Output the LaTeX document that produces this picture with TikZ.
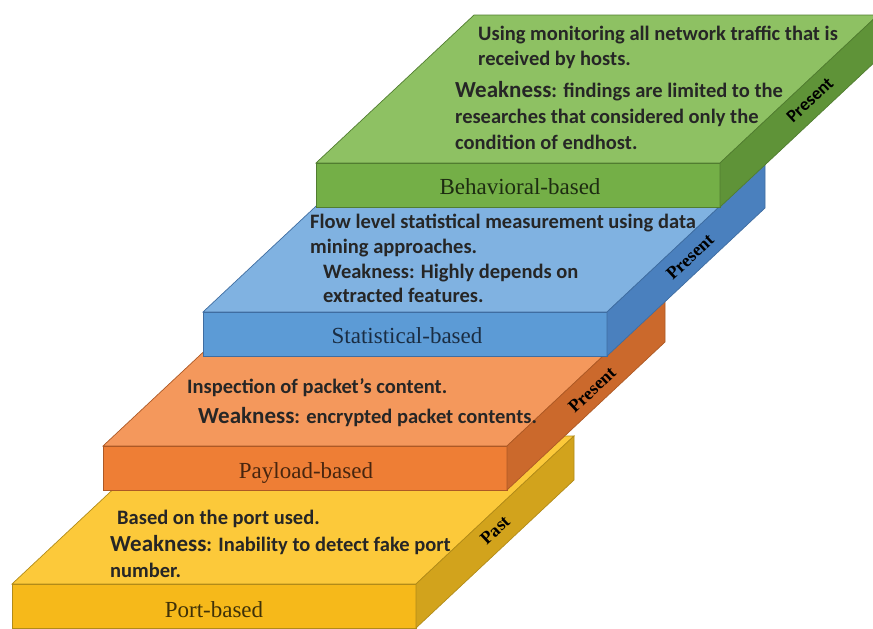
\documentclass[tikz,border=0pt]{standalone}
\usepackage{fontspec}
\setmainfont{Liberation Serif}
\newfontfamily\calfont{Carlito}
\definecolor{ytop}{HTML}{FCC93A}
\definecolor{yfront}{HTML}{F6B91A}
\definecolor{yside}{HTML}{D2A31C}
\definecolor{otop}{HTML}{F4985C}
\definecolor{ofront}{HTML}{EE7E35}
\definecolor{oside}{HTML}{CB692C}
\definecolor{btop}{HTML}{80B2E1}
\definecolor{bfront}{HTML}{5C9BD6}
\definecolor{bside}{HTML}{4A80BE}
\definecolor{gtop}{HTML}{8EC163}
\definecolor{gfront}{HTML}{74AF47}
\definecolor{gside}{HTML}{5F9338}
\tikzset{
  pics/slab/.style n args={3}{code={
    \filldraw[fill=#1, draw=#3!85!black, line width=0.7pt] (0,0) -- (158,-148) -- (562,-148) -- (404,0) -- cycle;
    \filldraw[fill=#2, draw=#3!85!black, line width=0.7pt] (0,0) rectangle (404,44);
    \filldraw[fill=#3, draw=#3!85!black, line width=0.7pt] (404,0) -- (562,-148) -- (562,-104) -- (404,44) -- cycle;
  }},
  desc/.style={anchor=base west, inner sep=0pt, text=black!85, font=\calfont\bfseries\fontsize{20.5}{24}\selectfont},
  flabel/.style={anchor=base, inner sep=0pt, font=\fontsize{23}{26}\selectfont},
  slabel/.style={inner sep=0pt, rotate=43, text=black, font=\bfseries\fontsize{18}{20}\selectfont}
}
\newcommand\wk{{\fontsize{23}{24}\selectfont Weakness}}
\begin{document}
\begin{tikzpicture}[x=1pt,y=-1pt]
\useasboundingbox (0,0) rectangle (873,629);
\fill[white] (0,0) rectangle (873,629);
\begin{scope}
\clip (0,0) rectangle (873,629);
% yellow
\pic at (12,584) {slab={ytop}{yfront}{yside}};
\node[flabel, text=yside!30!black] (portlbl) at (214,617) {Port-based};
\node[slabel] (past) at (495,530) {Past};
\node[desc] (y1) at (117,524) {Based on the port used.};
\node[desc] (y2) at (110,551) {\wk: Inability to detect fake port};
\node[desc] (y3) at (110,577) {number.};
% orange
\pic at (103,446) {slab={otop}{ofront}{oside}};
\node[flabel, text=oside!35!black] (paylbl) at (306,478) {Payload-based};
\node[slabel] (pres1) at (592,390) {Present};
\node[desc] (o1) at (187,393) {Inspection of packet’s content.};
\node[desc] (o2) at (198,423) {\wk: encrypted packet contents.};
% blue
\pic at (203,312) {slab={btop}{bfront}{bside}};
\node[flabel, text=bside!35!black] (statlbl) at (407,343) {Statistical-based};
\node[slabel] (pres2) at (690,257) {Present};
\node[desc] (b1) at (310,228) {Flow level statistical measurement using data};
\node[desc] (b2) at (310,253) {mining approaches.};
\node[desc] (b3) at (323,278) {Weakness: Highly depends on};
\node[desc] (b4) at (323,302) {extracted features.};
% green
\pic at (316,163) {slab={gtop}{gfront}{gside}};
\node[flabel, text=gside!30!black] (behlbl) at (520,194) {Behavioral-based};
\node[slabel, font=\calfont\bfseries\fontsize{18}{20}\selectfont] (pres3) at (810,100) {Present};
\node[desc] (g1) at (478,40) {Using monitoring all network traffic that is};
\node[desc] (g2) at (478,65) {received by hosts.};
\node[desc] (g3) at (455,97) {\wk: findings are limited to the};
\node[desc] (g4) at (455,123) {researches that considered only the};
\node[desc] (g5) at (455,149) {condition of endhost.};
\end{scope}
\end{tikzpicture}
\end{document}
